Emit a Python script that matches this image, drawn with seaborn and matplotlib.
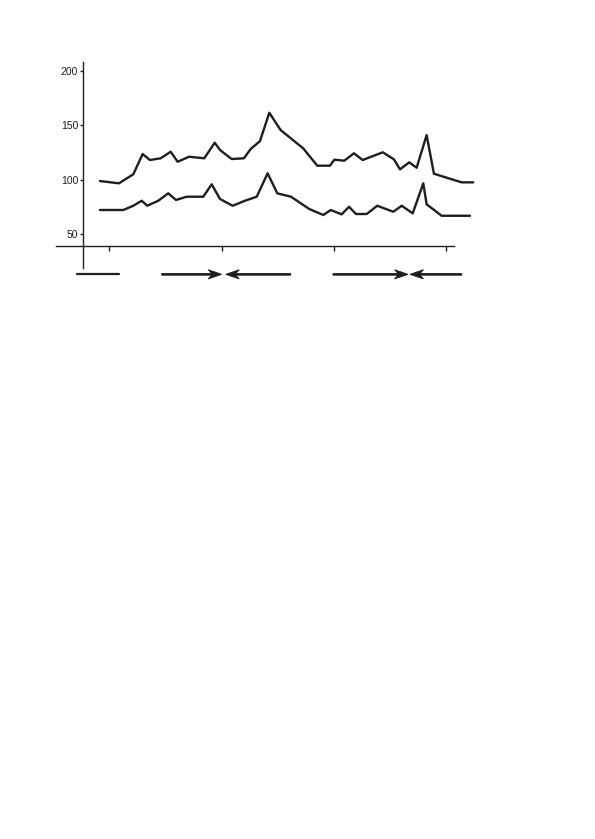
#Add libraries
import matplotlib
matplotlib.use("Agg")
import matplotlib.pyplot as plt
import seaborn as sns
import pandas as pd

#Style
sns.set_style("white")
plt.rcParams['font.family'] = ['Liberation Sans', 'DejaVu Sans']

#Data (x in arbitrary units, ticks at 0, 10, 20, 30)
upper_x = [-0.83, 0.86, 2.14, 2.97, 3.62, 4.58, 5.47, 6.09, 7.10, 8.46, 9.39, 9.86,
           10.90, 11.99, 12.59, 13.42, 14.25, 15.26, 17.27, 18.52, 19.65, 20.04,
           20.93, 21.79, 22.56, 24.35, 25.35, 25.89, 26.71, 27.37, 28.26, 28.91,
           31.38, 32.41]
upper_y = [98.8, 96.7, 105.0, 123.6, 118.1, 119.7, 125.7, 116.5, 121.1, 119.7, 134.0, 127.3,
           119.0, 119.7, 128.2, 135.5, 161.5, 145.6, 128.8, 112.9, 112.9, 118.4,
           117.5, 124.3, 118.1, 125.2, 118.7, 109.5, 116.0, 111.0, 141.0, 105.5,
           97.6, 97.6]

lower_x = [-0.83, 1.25, 2.14, 2.89, 3.38, 4.36, 5.25, 5.94, 6.89, 8.37, 9.12, 9.86,
           10.99, 12.08, 13.13, 14.10, 14.96, 16.18, 17.81, 19.06, 19.72, 20.69,
           21.35, 21.97, 22.92, 23.86, 25.29, 26.04, 27.02, 27.96, 28.26, 29.60,
           32.12]
lower_y = [72.2, 72.2, 76.1, 80.7, 76.1, 80.7, 87.5, 81.4, 84.4, 84.4, 95.8, 82.3,
           76.1, 80.7, 84.4, 105.9, 87.5, 84.4, 73.1, 67.6, 72.2, 68.2,
           75.2, 68.5, 68.5, 76.1, 70.6, 76.1, 69.1, 96.7, 77.4, 66.9,
           66.9]

y_ticks = [50, 100, 150, 200]
x_ticks = [0, 10, 20, 30]

#Bars under the axis: plain segment, then arrows (tail, tip)
plain_segment = (-2.90, 0.86)
arrows = [(4.67, 10.01), (16.15, 10.37), (19.92, 26.60), (31.38, 26.78)]
arrow_level = 13.1

ink = "#1e1e1e"

fig = plt.figure(figsize=(5.95, 8.39), dpi=100)
ax = fig.add_axes([0.0893, 0.6690, 0.7172, 0.2660])

df_up = pd.DataFrame({'x': upper_x, 'y': upper_y})
df_lo = pd.DataFrame({'x': lower_x, 'y': lower_y})
sns.lineplot(data=df_up, x='x', y='y', ax=ax, color=ink, lw=1.7, sort=False)
sns.lineplot(data=df_lo, x='x', y='y', ax=ax, color=ink, lw=1.7, sort=False)

ax.set_xlim(-5, 33)
ax.set_ylim(10, 215)

#Axes: spines crossing like in the figure
for s in ['top', 'right']:
    ax.spines[s].set_visible(False)
ax.spines['left'].set_position(('data', -2.37))
ax.spines['left'].set_bounds(18.9, 208.3)
ax.spines['bottom'].set_position(('data', 38.7))
ax.spines['bottom'].set_bounds(-4.75, 30.7)
for s in ['left', 'bottom']:
    ax.spines[s].set_color(ink)
    ax.spines[s].set_linewidth(1.0)

ax.set_yticks(y_ticks)
ax.set_xticks(x_ticks)
ax.set_xticklabels([])
ax.tick_params(axis='y', direction='out', length=2.3, width=1.0, pad=1.0,
               labelsize=7.5, colors=ink, left=True)
ax.tick_params(axis='x', direction='out', length=3.6, width=1.0, colors=ink, bottom=True)
ax.set_xlabel('')
ax.set_ylabel('')

#Bars and arrows below the axis (notched heads)
ax.plot(plain_segment, [arrow_level, arrow_level], color=ink, lw=1.6, clip_on=False)
for tail, tip in arrows:
    ax.arrow(tail, arrow_level, tip - tail, 0, width=1.6, head_width=8.5,
             head_length=1.2, overhang=0.25, length_includes_head=True,
             color=ink, lw=0.6, clip_on=False)

fig.savefig('out.png', dpi=100)
